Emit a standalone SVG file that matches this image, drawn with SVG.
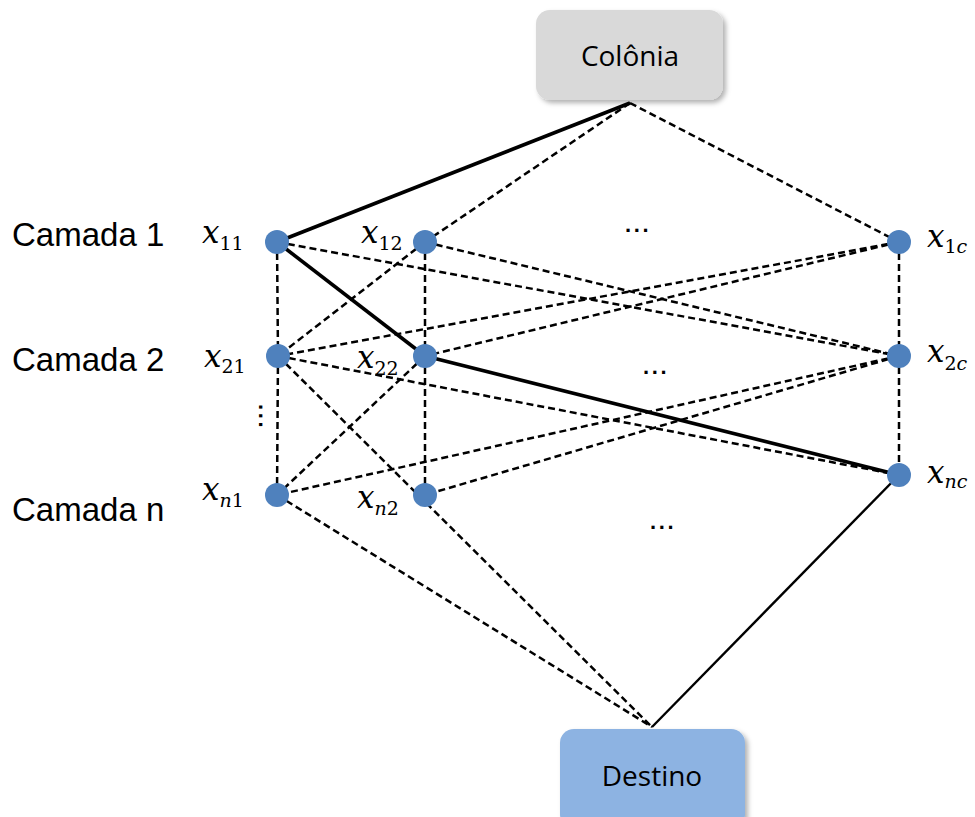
<svg xmlns="http://www.w3.org/2000/svg" width="975" height="817" viewBox="0 0 975 817">
  <defs>
    <filter id="shadow" x="-10%" y="-10%" width="130%" height="140%">
      <feDropShadow dx="3" dy="3" stdDeviation="2.5" flood-color="#000" flood-opacity="0.3"/>
    </filter>
    <style>
      .dash { stroke: #000; stroke-width: 2.5; stroke-dasharray: 7 4; fill: none; }
      .solid { stroke: #000; stroke-width: 3.6; fill: none; }
      .thin { stroke: #000; stroke-width: 2.4; fill: none; }
      .node { fill: #4F81BD; }
      .layer { font-family: "Liberation Sans", Arial, sans-serif; font-size: 33px; fill: #000; }
      .box-text { font-family: "Open Sans", "Liberation Sans", sans-serif; font-size: 28px; fill: #000; text-anchor: middle; }
      .var { font-family: "DejaVu Serif", "Liberation Serif", serif; font-style: italic; font-size: 31px; fill: #000; }
      .sub { font-size: 19px; }
      .up { font-style: normal; }
      .dots { font-family: "Liberation Sans", Arial, sans-serif; font-weight: bold; font-size: 22px; letter-spacing: 2.6px; fill: #000; }
    </style>
  </defs>

  <!-- connectors -->
  <g id="connectors">
    <!-- colony to layer 1 -->
    <line class="solid" x1="630" y1="103" x2="277" y2="242"/>
    <line class="dash" x1="630" y1="103" x2="425" y2="242"/>
    <line class="dash" x1="630" y1="103" x2="899" y2="242"/>
    <!-- layer 1 to layer 2 -->
    <line class="dash" x1="277" y1="242" x2="278" y2="356"/>
    <line class="solid" x1="277" y1="242" x2="425" y2="356"/>
    <line class="dash" x1="277" y1="242" x2="899" y2="356"/>
    <line class="dash" x1="425" y1="242" x2="278" y2="356"/>
    <line class="dash" x1="425" y1="242" x2="425" y2="356"/>
    <line class="dash" x1="425" y1="242" x2="899" y2="356"/>
    <line class="dash" x1="899" y1="242" x2="278" y2="356"/>
    <line class="dash" x1="899" y1="242" x2="425" y2="356"/>
    <line class="dash" x1="899" y1="242" x2="899" y2="356"/>
    <!-- layer 2 to layer n -->
    <line class="dash" x1="278" y1="356" x2="277" y2="495"/>
    <line class="dash" x1="278" y1="356" x2="899" y2="475"/>
    <line class="dash" x1="278" y1="356" x2="652" y2="727"/>
    <line class="dash" x1="425" y1="356" x2="277" y2="495"/>
    <line class="dash" x1="425" y1="356" x2="425" y2="495"/>
    <line class="solid" x1="425" y1="356" x2="899" y2="475"/>
    <line class="dash" x1="899" y1="356" x2="277" y2="495"/>
    <line class="dash" x1="899" y1="356" x2="425" y2="495"/>
    <line class="dash" x1="899" y1="356" x2="899" y2="475"/>
    <!-- layer n to destination -->
    <line class="dash" x1="277" y1="495" x2="652" y2="727"/>
    <line class="thin" x1="899" y1="475" x2="652" y2="727"/>
  </g>

  <!-- colony -->
  <g id="colonia">
    <rect x="536" y="10" width="187" height="90" rx="14" fill="#D9D9D9" filter="url(#shadow)"/>
    <text class="box-text" x="630" y="66">Colônia</text>
  </g>

  <!-- destination -->
  <g id="destino">
    <rect x="560" y="729" width="185" height="100" rx="14" fill="#8DB3E2" filter="url(#shadow)"/>
    <text class="box-text" x="652" y="786">Destino</text>
  </g>

  <!-- layer captions -->
  <g id="camadas">
    <text class="layer" x="12" y="246">Camada 1</text>
    <text class="layer" x="12" y="371">Camada 2</text>
    <text class="layer" x="12" y="521">Camada n</text>
  </g>

  <!-- decision nodes -->
  <g id="x11"><circle class="node" cx="277" cy="242" r="12"/>
    <text class="var" x="202" y="243">x<tspan class="sub up" y="250">11</tspan></text></g>
  <g id="x12"><circle class="node" cx="425" cy="242" r="12"/>
    <text class="var" x="361" y="243">x<tspan class="sub up" y="250">12</tspan></text></g>
  <g id="x1c"><circle class="node" cx="899" cy="242" r="12"/>
    <text class="var" x="927" y="247">x<tspan class="sub up" y="253">1</tspan><tspan class="sub">c</tspan></text></g>

  <g id="x21"><circle class="node" cx="278" cy="356" r="12"/>
    <text class="var" x="204" y="367">x<tspan class="sub up" y="373">21</tspan></text></g>
  <g id="x22"><circle class="node" cx="425" cy="356" r="12"/>
    <text class="var" x="357" y="368">x<tspan class="sub up" y="375">22</tspan></text></g>
  <g id="x2c"><circle class="node" cx="899" cy="356" r="12"/>
    <text class="var" x="927" y="362">x<tspan class="sub up" y="370">2</tspan><tspan class="sub">c</tspan></text></g>

  <g id="xn1"><circle class="node" cx="277" cy="495" r="12"/>
    <text class="var" x="202" y="500">x<tspan class="sub" y="507">n</tspan><tspan class="sub up">1</tspan></text></g>
  <g id="xn2"><circle class="node" cx="425" cy="495" r="12"/>
    <text class="var" x="357" y="508">x<tspan class="sub" y="515">n</tspan><tspan class="sub up">2</tspan></text></g>
  <g id="xnc"><circle class="node" cx="899" cy="475" r="12"/>
    <text class="var" x="927" y="483">x<tspan class="sub" y="488">nc</tspan></text></g>

  <!-- ellipses -->
  <g id="ellipses">
    <text class="dots" x="625" y="232">...</text>
    <text class="dots" x="643" y="374">...</text>
    <text class="dots" x="650" y="529">...</text>
    <text class="dots" x="0" y="0" transform="translate(259,404) rotate(90)">...</text>
  </g>
</svg>
